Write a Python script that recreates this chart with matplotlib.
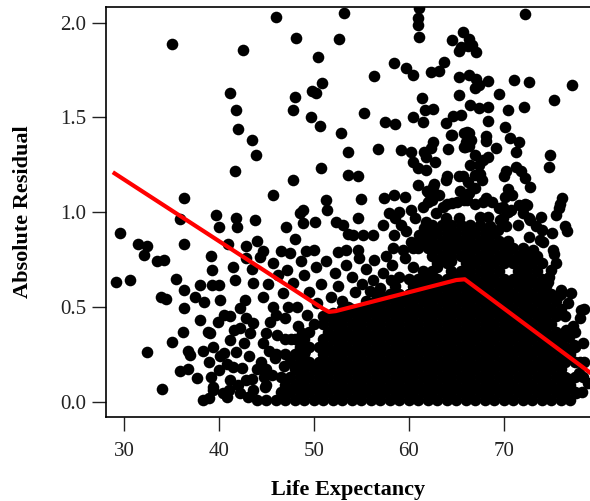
import matplotlib as mpl
mpl.use("Agg")
import matplotlib.pyplot as plt

plt.rcParams['font.family'] = ['Liberation Serif', 'DejaVu Serif']

top_left_x = [35.05, 46.0, 42.5, 48.1, 41.2, 41.8, 42.0, 43.5, 43.9, 41.7, 48.0, 47.8, 47.8, 45.7, 36.3, 35.9,
              39.7, 40.0, 41.8, 41.9, 43.8, 47.1, 48.5, 48.0, 29.6, 31.5, 32.4, 36.3, 41.0, 42.9, 44.0]
top_left_y = [1.89, 2.03, 1.855, 1.92, 1.63, 1.54, 1.44, 1.38, 1.30, 1.22, 1.61, 1.54, 1.17, 1.09, 1.075, 0.965,
              0.985, 0.92, 0.97, 0.92, 0.96, 0.92, 0.995, 0.86, 0.89, 0.83, 0.82, 0.83, 0.83, 0.82, 0.85]

low_left_x = [29.2, 30.6, 32.1, 33.5, 34.2, 35.5, 33.9, 34.4, 36.3, 36.3,
              37.5, 38.4, 38.0, 39.2, 39.3, 39.3, 40.0, 40.1, 38.0, 36.2,
              35.0, 32.4, 34.0, 35.9, 36.7, 37.7, 37.0, 38.9, 38.3, 39.4,
              39.2, 40.8, 39.1, 39.9, 41.2, 42.2, 41.5, 41.7, 43.6, 44.6,
              42.7, 41.2, 42.2, 43.6, 45.0, 40.1, 41.5, 41.2, 42.9, 42.2,
              43.1, 44.3, 45.7, 47.2, 47.8, 47.5, 45.7, 46.8, 48.2, 38.8,
              40.5, 36.7, 38.3, 39.4, 40.0, 39.4, 38.9, 40.4, 40.5, 41.8,
              42.6, 43.2, 42.4, 43.5, 42.0, 43.6, 41.6, 42.9, 43.3, 40.8,
              41.1, 44.6, 46.5, 43.5, 42.8, 45.2, 46.2, 46.0, 47.3, 45.3,
              44.6, 46.1, 45.4, 47.0, 48.3, 44.9, 45.6, 46.9, 44.4, 49.1,
              47.6, 48.7, 45.9, 44.7]
low_left_y = [0.63, 0.64, 0.775, 0.745, 0.75, 0.65, 0.555, 0.54, 0.59, 0.495,
              0.55, 0.525, 0.615, 0.77, 0.695, 0.615, 0.615, 0.535, 0.43, 0.37,
              0.315, 0.26, 0.065, 0.16, 0.17, 0.125, 0.245, 0.21, 0.01, 0.06,
              0.13, 0.025, 0.36, 0.42, 0.45, 0.495, 0.71, 0.64, 0.625, 0.555,
              0.535, 0.325, 0.39, 0.415, 0.36, 0.24, 0.185, 0.115, 0.115, 0.045,
              0.025, 0.765, 0.73, 0.695, 0.625, 0.785, 0.5, 0.575, 0.5, 0.37,
              0.455, 0.265, 0.27, 0.29, 0.165, 0.08, 0.02, 0.045, 0.255, 0.26,
              0.31, 0.24, 0.18, 0.12, 0.09, 0.06, 0.38, 0.44, 0.36, 0.20,
              0.06, 0.795, 0.795, 0.70, 0.76, 0.62, 0.67, 0.46, 0.50, 0.27,
              0.31, 0.35, 0.42, 0.44, 0.40, 0.08, 0.14, 0.19, 0.21, 0.27,
              0.33, 0.36, 0.23, 0.13]

mid_x = [49.3, 50.3, 49.5, 50.8, 49.0, 50.2, 51.3, 48.6, 51.8, 52.5,
         52.2, 53.4, 53.0, 54.3, 54.0, 55.1, 55.5, 56.3, 54.8, 56.2,
         57.3, 57.0, 58.2, 57.6, 59.0, 59.6, 60.5, 61.0, 60.3, 56.0,
         55.0, 51.0, 52.0, 49.2, 50.0, 52.5, 54.7, 53.4, 58.3, 59.4,
         60.4, 56.6, 58.1, 61.9, 63.0, 64.4, 53.6, 55.9, 57.8]
mid_y = [0.46, 0.52, 0.58, 0.62, 0.67, 0.71, 0.74, 0.74, 0.55, 0.61,
         0.68, 0.72, 0.53, 0.58, 0.66, 0.62, 0.70, 0.75, 0.76, 0.64,
         0.68, 0.60, 0.72, 0.77, 0.66, 0.76, 0.71, 0.62, 0.58, 0.52,
         0.49, 0.45, 0.47, 0.795, 0.80, 0.79, 0.80, 0.80, 0.81, 0.80,
         0.81, 0.57, 0.64, 0.67, 0.71, 0.745, 0.50, 0.585, 0.555]

upper_x = [52.6, 53.2, 50.4, 50.9, 49.8, 50.2, 49.7, 50.7, 52.9, 53.6,
           53.6, 50.8, 51.3, 51.4, 48.9, 48.9, 50.1, 52.3, 53.1, 53.6,
           61.05, 61.0, 61.0, 61.05, 65.7, 64.6, 65.5, 65.3, 58.4, 59.7,
           60.4, 56.3, 62.3, 63.2, 63.7, 65.3, 61.4, 61.7, 62.6, 60.5,
           61.5, 55.3, 57.5, 58.5, 65.3, 63.9, 64.7, 65.5, 64.6, 65.8,
           62.6, 62.3, 61.6, 59.2, 60.2, 56.8, 64.1, 65.8, 60.4, 61.8,
           62.8, 61.0, 61.8, 54.7, 61.0, 62.6, 63.9, 65.3, 62.1, 63.2,
           57.4, 58.4, 59.6, 55.0, 54.6, 57.9, 59.0, 60.2, 61.5, 62.0,
           63.6, 64.6, 65.8, 57.3, 58.6, 59.2, 60.7, 61.8, 63.9, 65.3,
           54.1, 55.2, 56.2, 58.4, 59.7, 61.05, 62.1, 64.2, 64.9, 62.7,
           64.0, 65.7, 61.9, 65.4, 62.5, 62.9, 64.0, 65.05, 64.5, 65.9,
           60.2, 60.9, 61.6, 68.6, 69.4]
upper_y = [1.915, 2.05, 1.82, 1.68, 1.64, 1.63, 1.50, 1.455, 1.42, 1.32,
           1.195, 1.235, 1.065, 1.01, 1.01, 0.945, 0.95, 0.95, 0.93, 0.885,
           2.075, 2.025, 1.99, 1.925, 1.95, 1.91, 1.87, 1.85, 1.785, 1.76,
           1.725, 1.72, 1.74, 1.745, 1.795, 1.715, 1.605, 1.54, 1.545, 1.50,
           1.475, 1.525, 1.475, 1.465, 1.62, 1.47, 1.505, 1.515, 1.405, 1.42,
           1.37, 1.34, 1.32, 1.33, 1.32, 1.335, 1.335, 1.345, 1.265, 1.29,
           1.265, 1.235, 1.225, 1.19, 1.145, 1.135, 1.17, 1.19, 1.10, 1.09,
           1.075, 1.09, 1.08, 1.07, 0.97, 0.995, 1.0, 1.01, 1.03, 1.055,
           1.03, 1.05, 1.065, 0.93, 0.97, 0.93, 0.97, 0.95, 0.97, 0.97,
           0.88, 0.88, 0.88, 0.88, 0.90, 0.88, 0.90, 0.93, 0.88, 1.15,
           1.19, 1.19, 1.11, 1.11, 1.065, 0.995, 1.045, 1.055, 1.41, 1.345,
           0.845, 0.83, 0.915, 0.925, 0.905]

right_x = [72.3, 66.3, 66.7, 67.05, 66.2, 71.05, 72.7, 77.2, 75.3, 69.5,
           66.3, 67.05, 68.4, 67.4, 66.95, 66.5, 67.4, 68.3, 70.5, 72.1,
           68.3, 70.1, 66.3, 66.0, 68.1, 68.1, 70.7, 71.6, 71.3, 69.2,
           74.9, 74.8, 68.4, 67.8, 67.4, 71.3, 71.8, 70.2, 70.0, 72.3,
           72.8, 70.5, 70.9, 71.6, 72.5, 76.2, 75.8, 75.5, 73.9, 73.4,
           76.5, 76.7, 72.8, 71.5, 74.1, 75.2, 69.5, 69.9, 68.1, 68.8,
           70.5, 66.1, 66.6, 66.95, 67.7, 66.4, 66.1, 66.95, 67.8, 69.9,
           70.8, 72.0, 70.6, 72.2, 72.7, 74.0, 75.05, 75.9, 67.5, 68.3,
           70.1, 69.6, 70.3, 72.7, 73.8, 66.3, 67.0, 66.5, 67.5, 66.2,
           67.0, 75.5, 74.65, 76.05, 77.1, 78.15, 78.5, 78.0, 76.6, 76.9,
           78.0, 78.9, 77.6, 75.0, 74.1, 73.1, 75.35, 77.4, 76.3, 77.9,
           76.8, 75.6, 77.3, 78.4, 76.9, 75.7, 74.8]
right_y = [2.045, 1.915, 1.88, 1.845, 1.875, 1.70, 1.685, 1.67, 1.59, 1.625,
           1.725, 1.705, 1.69, 1.67, 1.655, 1.565, 1.55, 1.555, 1.54, 1.555,
           1.48, 1.45, 1.42, 1.37, 1.40, 1.375, 1.39, 1.37, 1.32, 1.34,
           1.30, 1.24, 1.29, 1.275, 1.25, 1.24, 1.215, 1.215, 1.19, 1.18,
           1.135, 1.125, 1.09, 1.04, 1.04, 1.075, 1.02, 0.985, 0.975, 0.925,
           0.925, 0.90, 0.96, 0.93, 0.845, 0.80, 1.02, 0.97, 1.075, 1.055,
           1.0, 1.425, 1.38, 1.195, 1.17, 1.10, 1.065, 1.045, 1.055, 1.03,
           1.01, 0.995, 1.10, 1.045, 0.97, 0.905, 0.89, 1.045, 0.975, 0.975,
           1.08, 0.96, 0.925, 0.87, 0.855, 1.35, 1.30, 1.25, 1.20, 1.16,
           1.13, 0.73, 0.633, 0.59, 0.572, 0.484, 0.49, 0.44, 0.38, 0.343,
           0.21, 0.097, 0.044, 0.695, 0.625, 0.80, 0.78, 0.30, 0.27, 0.15,
           0.52, 0.47, 0.40, 0.31, 0.12, 0.56, 0.66]

# the packed block: one residual level per row, life expectancies along it
row_resid = [0.01, 0.05, 0.09, 0.13, 0.17, 0.21, 0.25, 0.29, 0.33, 0.37, 0.41, 0.45,
             0.49, 0.53, 0.57, 0.61, 0.65, 0.69, 0.73, 0.77, 0.81, 0.85, 0.89, 0.93]
row_life = [
    [44, 45, 46, 47, 48, 49, 50, 51, 52, 53, 54, 55, 56, 57, 58, 59, 60, 61, 62, 63, 64, 65, 66, 67, 68, 69, 70,
     71, 72, 73, 74, 75, 76, 77],
    [46.5, 47.5, 48.5, 49.5, 50.5, 51.5, 52.5, 53.5, 54.5, 55.5, 56.5, 57.5, 58.5, 59.5, 60.5, 61.5, 62.5,
     63.5, 64.5, 65.5, 66.5, 67.5, 68.5, 69.5, 70.5, 71.5, 72.5, 73.5, 74.5, 75.5, 76.5, 77.5, 78.3],
    [45, 47, 48, 49, 50, 51, 52, 53, 54, 55, 56, 57, 58, 59, 60, 61, 62, 63, 64, 65, 66, 67, 68, 69, 70, 71,
     72, 73, 74, 75, 76, 77],
    [46.5, 47.5, 48.5, 49.5, 50.5, 51.5, 52.5, 53.5, 54.5, 55.5, 56.5, 57.5, 58.5, 59.5, 60.5, 61.5, 62.5,
     63.5, 64.5, 65.5, 66.5, 67.5, 68.5, 69.5, 70.5, 71.5, 72.5, 73.5, 74.5, 75.5, 76.5, 77.5, 78.4],
    [44, 45, 48, 49, 50, 51, 52, 53, 54, 55, 56, 57, 58, 59, 60, 61, 62, 63, 64, 65, 66, 67, 68, 69, 70, 71,
     72, 73, 74, 75, 76],
    [47.5, 48.5, 49.5, 50.5, 51.5, 52.5, 53.5, 54.5, 55.5, 56.5, 57.5, 58.5, 59.5, 60.5, 61.5, 62.5,
     63.5, 64.5, 65.5, 66.5, 67.5, 68.5, 69.5, 70.5, 71.5, 72.5, 73.5, 74.5, 75.5, 76.5, 77.5, 78.5],
    [46, 47, 48, 49, 51, 52, 53, 54, 55, 56, 57, 58, 59, 60, 61, 62, 63, 64, 65, 66, 67, 68, 69, 70, 71, 72, 73,
     74, 75, 76, 77],
    [48.5, 49.5, 50.5, 51.5, 52.5, 53.5, 54.5, 55.5, 56.5, 57.5, 58.5, 59.5, 60.5, 61.5, 62.5, 63.5,
     64.5, 65.5, 66.5, 67.5, 68.5, 69.5, 70.5, 71.5, 72.5, 73.5, 74.5, 75.5, 76.5, 77.5],
    [47, 48, 49, 51, 52, 53, 54, 55, 56, 57, 58, 59, 60, 61, 62, 63, 64, 65, 66, 67, 68, 69, 70, 71, 72, 73, 74,
     75, 76],
    [49.5, 51.5, 52.5, 53.5, 54.5, 55.5, 56.5, 57.5, 58.5, 59.5, 60.5, 61.5, 62.5, 63.5, 64.5, 65.5,
     66.5, 67.5, 68.5, 69.5, 70.5, 71.5, 72.5, 73.5, 74.5, 75.5, 76.5, 77.5],
    [50, 51, 52, 53, 54, 55, 56, 57, 58, 59, 60, 61, 62, 63, 64, 65, 66, 67, 68, 69, 70, 71, 72, 73, 74,
     75],
    [51.5, 52.5, 53.5, 54.5, 55.5, 56.5, 57.5, 58.5, 59.5, 60.5, 61.5, 62.5, 63.5, 64.5, 65.5, 66.5, 67.5,
     68.5, 69.5, 70.5, 71.5, 72.5, 73.5, 74.5, 75.5, 76.5],
    [53, 54, 55, 56, 57, 58, 59, 60, 61, 62, 63, 64, 65, 66, 67, 68, 69, 70, 71, 72, 73, 74, 75, 76],
    [55.5, 56.5, 57.5, 58.5, 59.5, 60.5, 61.5, 62.5, 63.5, 64.5, 65.5, 66.5, 67.5, 68.5, 69.5, 70.5, 71.5, 72.5,
     73.5, 74.5, 75.5],
    [57, 58, 59, 60, 61, 62, 63, 64, 65, 66, 67, 68, 69, 70, 71, 72, 73, 74, 75, 76],
    [58.5, 60.5, 61.5, 62.5, 63.5, 64.5, 65.5, 66.5, 67.5, 68.5, 69.5, 70.5, 71.5, 72.5, 73.5, 74.5],
    [60, 61, 62, 63, 64, 65, 66, 67, 68, 69, 70, 71, 72, 73, 74],
    [61.5, 62.5, 64.5, 65.5, 66.5, 67.5, 68.5, 69.5, 71.5, 72.5, 73.5],
    [63, 64, 66, 67, 68, 69, 70, 71, 72, 73, 74],
    [62.5, 63.5, 64.5, 65.5, 66.5, 67.5, 68.5, 69.5, 70.5, 71.5, 72.5, 73.5],
    [61, 62, 63, 64, 65, 66, 67, 68, 69, 70, 71, 72],
    [61.5, 62.5, 63.5, 64.5, 65.5, 66.5, 67.5, 68.5, 69.5, 70.5],
    [62, 63, 64, 65, 66, 67, 68, 69],
    [62.5, 63.5, 64.5, 65.5, 66.5, 67.5],
]

# smoothed trend (red)
trend_x = [29.0, 51.0, 51.6, 52.3, 65.0, 65.9, 79.2]
trend_y = [1.205, 0.49, 0.474, 0.478, 0.642, 0.646, 0.15]

life = top_left_x + low_left_x + mid_x + upper_x + right_x
resid = top_left_y + low_left_y + mid_y + upper_y + right_y
for r, xs in zip(row_resid, row_life):
    life = life + xs
    resid = resid + [r] * len(xs)

fig = plt.figure(figsize=(5.9, 5.01), dpi=100)
ax = fig.add_axes([0.1797, 0.1683, 0.8203, 0.8178])

ax.scatter(life, resid, s=70, c='black', linewidths=0, zorder=2)
ax.plot(trend_x, trend_y, color='red', lw=3, zorder=3)

ax.set_xlim(28.1, 79.1)
ax.set_ylim(-0.079, 2.083)
ax.set_xticks([30, 40, 50, 60, 70])
ax.set_yticks([0, 0.5, 1.0, 1.5, 2.0])
ax.set_yticklabels(['0.0', '0.5', '1.0', '1.5', '2.0'])
ax.tick_params(direction='out', length=10, width=1, labelsize=15, colors='#222222', labelcolor='#222222')
ax.tick_params(axis='x', pad=8)
ax.tick_params(axis='y', pad=4)
ax.spines['right'].set_visible(False)
for s in ['left', 'bottom', 'top']:
    ax.spines[s].set_linewidth(1.2)

ax.set_xlabel('Life Expectancy', fontsize=16, fontweight='bold', labelpad=14)
ax.set_ylabel('Absolute Residual', fontsize=16, fontweight='bold', labelpad=20)

fig.savefig('out.png', dpi=100)
